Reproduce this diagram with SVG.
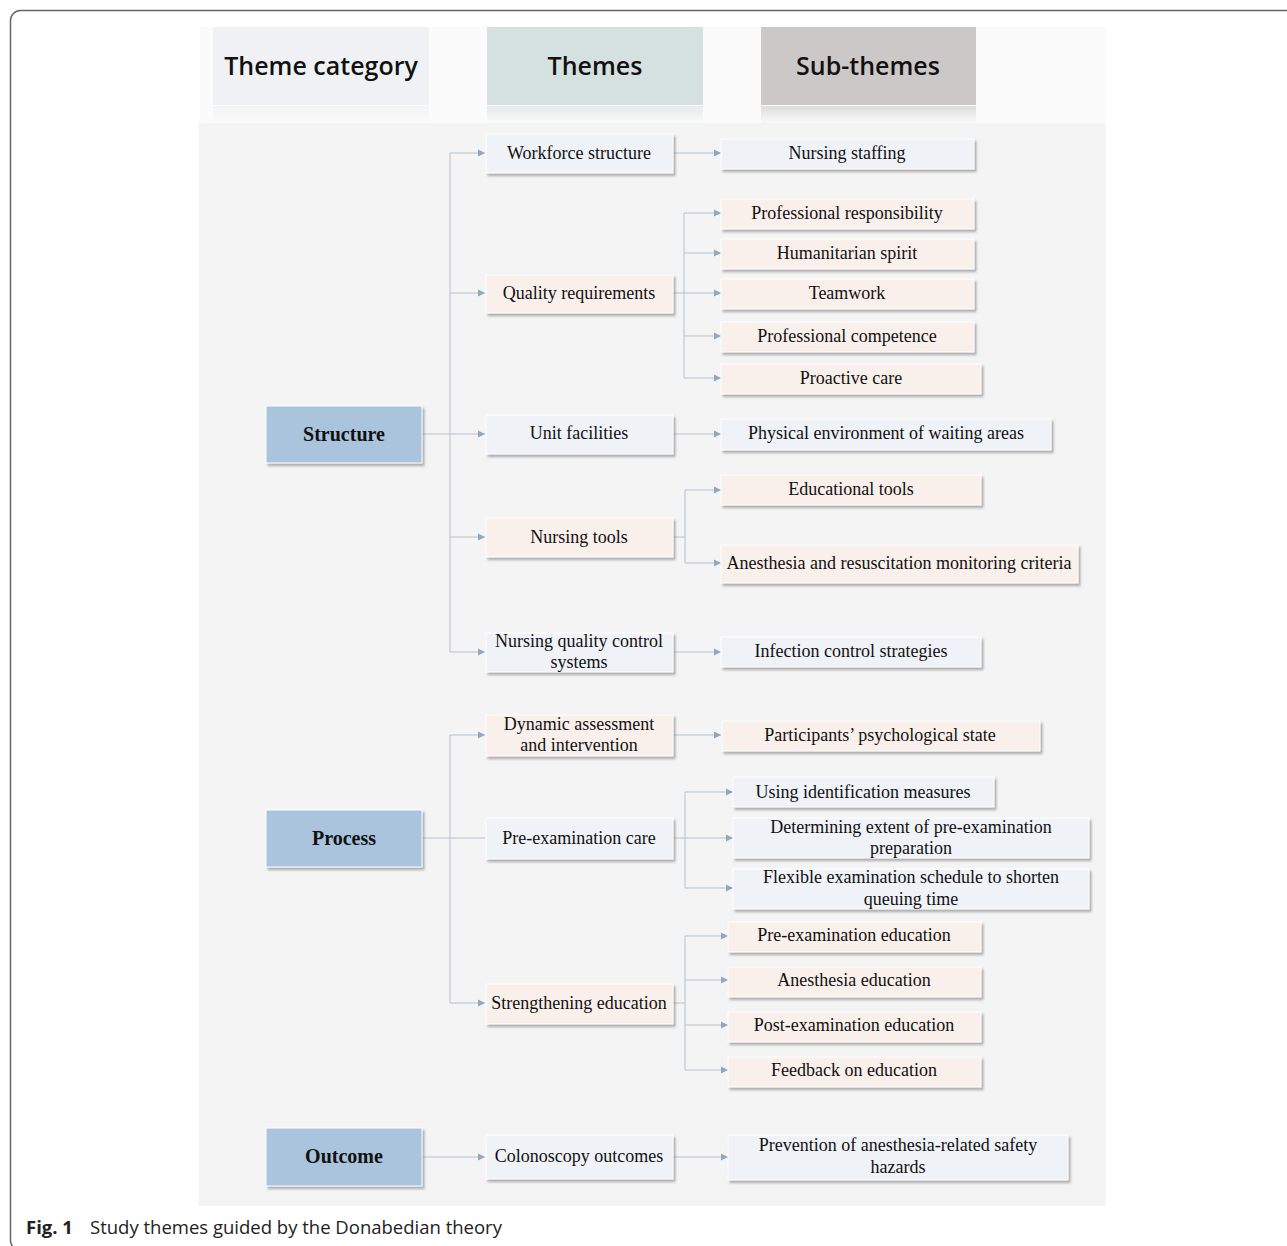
<svg xmlns="http://www.w3.org/2000/svg" width="1287" height="1246" viewBox="0 0 1287 1246">
<defs>
<filter id="sh" x="-10%" y="-20%" width="120%" height="160%">
<feDropShadow dx="2" dy="2.5" stdDeviation="1.2" flood-color="#6f6f6f" flood-opacity="0.55"/>
</filter>
<marker id="ar" markerWidth="9" markerHeight="9" refX="8" refY="4.5" orient="auto" markerUnits="userSpaceOnUse">
<path d="M1,1 L8,4.5 L1,8 Z" fill="#8fa8c0"/>
</marker>
<linearGradient id="r1" x1="0" y1="0" x2="0" y2="1"><stop offset="0" stop-color="#f0f1f5" stop-opacity="0.7"/><stop offset="1" stop-color="#f0f1f5" stop-opacity="0"/></linearGradient>
<linearGradient id="r2" x1="0" y1="0" x2="0" y2="1"><stop offset="0" stop-color="#d5e1df" stop-opacity="0.6"/><stop offset="1" stop-color="#d5e1df" stop-opacity="0"/></linearGradient>
<linearGradient id="r3" x1="0" y1="0" x2="0" y2="1"><stop offset="0" stop-color="#cdc8c8" stop-opacity="0.6"/><stop offset="1" stop-color="#cdc8c8" stop-opacity="0"/></linearGradient>
<style>
.cat{fill:#a9c4dc;stroke:#ffffff;stroke-width:1;filter:url(#sh)}
.b{fill:#eff2f7;stroke:#ffffff;stroke-width:1;filter:url(#sh)}
.p{fill:#f9efeb;stroke:#ffffff;stroke-width:1;filter:url(#sh)}
.t{font-family:"Liberation Serif","Times New Roman",serif;font-size:18px;fill:#111;text-anchor:middle}
.ct{font-family:"Liberation Serif","Times New Roman",serif;font-size:20px;font-weight:bold;fill:#111;text-anchor:middle}
.h{font-family:"Open Sans","Noto Sans",sans-serif;font-size:25px;font-weight:600;fill:#111;text-anchor:middle}
.c{fill:none;stroke:#b3c2d1;stroke-width:1}
.a{fill:none;stroke:#b3c2d1;stroke-width:1;marker-end:url(#ar)}
.cap{font-family:"Open Sans","Noto Sans",sans-serif;font-size:18.5px;fill:#222}
</style>
</defs>
<rect x="0" y="0" width="1287" height="1246" fill="#ffffff"/>
<rect x="10.5" y="10.5" width="1290" height="1240" rx="10" fill="#ffffff" stroke="#666666" stroke-width="1.5"/>
<rect x="199" y="27" width="907" height="96" fill="#fbfbfb"/>
<rect x="199" y="123" width="907" height="1083" fill="#f4f4f4"/>

<g id="headers">
<g id="h-category"><rect x="213" y="27" width="216" height="78" fill="#f0f1f5"/><rect x="213" y="106" width="216" height="18" fill="url(#r1)"/><text class="h" x="321" y="75">Theme category</text></g>
<g id="h-themes"><rect x="487" y="27" width="216" height="78" fill="#d5e1df"/><rect x="487" y="106" width="216" height="18" fill="url(#r2)"/><text class="h" x="595" y="75">Themes</text></g>
<g id="h-subthemes"><rect x="761" y="27" width="215" height="78" fill="#cdc8c8"/><rect x="761" y="106" width="215" height="18" fill="url(#r3)"/><text class="h" x="868" y="75">Sub-themes</text></g>
</g>

<g id="connectors">
<!-- Structure -->
<path class="a" d="M422,434 H485"/>
<path class="c" d="M450,153 V652"/>
<path class="a" d="M450,153 H485"/>
<path class="a" d="M450,293 H485"/>
<path class="a" d="M450,537 H485"/>
<path class="a" d="M450,652 H485"/>
<path class="a" d="M673,153 H721"/>
<path class="c" d="M673,293 H684 M684,213 V378"/>
<path class="a" d="M684,213 H721"/>
<path class="a" d="M684,253 H721"/>
<path class="a" d="M684,293 H721"/>
<path class="a" d="M684,336 H721"/>
<path class="a" d="M684,378 H721"/>
<path class="a" d="M673,434 H721"/>
<path class="c" d="M673,537 H685 M685,490 V563"/>
<path class="a" d="M685,490 H721"/>
<path class="a" d="M685,563 H721"/>
<path class="a" d="M673,652 H721"/>
<!-- Process -->
<path class="c" d="M422,838 H485"/>
<path class="c" d="M450,735 V1003"/>
<path class="a" d="M450,735 H485"/>
<path class="a" d="M450,1003 H485"/>
<path class="a" d="M673,735 H721"/>
<path class="c" d="M673,838 H685 M685,792 V888"/>
<path class="a" d="M685,792 H733"/>
<path class="a" d="M685,838 H733"/>
<path class="a" d="M685,888 H733"/>
<path class="c" d="M673,1003 H685 M685,936 V1070"/>
<path class="a" d="M685,936 H728"/>
<path class="a" d="M685,980 H728"/>
<path class="a" d="M685,1025 H728"/>
<path class="a" d="M685,1070 H728"/>
<!-- Outcome -->
<path class="a" d="M422,1157 H485"/>
<path class="a" d="M673,1157 H728"/>
</g>

<g id="n-structure"><rect class="cat" x="266" y="406" width="156" height="57"/><text class="ct" x="344" y="441">Structure</text></g>
<g id="n-process"><rect class="cat" x="266" y="810" width="156" height="57"/><text class="ct" x="344" y="845">Process</text></g>
<g id="n-outcome"><rect class="cat" x="266" y="1128" width="156" height="58"/><text class="ct" x="344" y="1163">Outcome</text></g>

<g id="n-workforce"><rect class="b" x="486" y="134" width="187" height="39"/><text class="t" x="579" y="159">Workforce structure</text></g>
<g id="n-quality"><rect class="p" x="486" y="275" width="187" height="38"/><text class="t" x="579" y="299">Quality requirements</text></g>
<g id="n-unit"><rect class="b" x="486" y="415" width="187" height="39"/><text class="t" x="579" y="439">Unit facilities</text></g>
<g id="n-nursingtools"><rect class="p" x="486" y="518" width="187" height="39"/><text class="t" x="579" y="543">Nursing tools</text></g>
<g id="n-nqc"><rect class="b" x="486" y="633" width="187" height="39"/><text class="t" x="579" y="647">Nursing quality control</text><text class="t" x="579" y="668">systems</text></g>
<g id="n-dynamic"><rect class="p" x="486" y="715" width="187" height="41"/><text class="t" x="579" y="730">Dynamic assessment</text><text class="t" x="579" y="751">and intervention</text></g>
<g id="n-preexamcare"><rect class="b" x="486" y="818" width="187" height="41"/><text class="t" x="579" y="844">Pre-examination care</text></g>
<g id="n-strengthening"><rect class="p" x="486" y="984" width="187" height="40"/><text class="t" x="579" y="1009">Strengthening education</text></g>
<g id="n-colonoscopy"><rect class="b" x="486" y="1135" width="187" height="44"/><text class="t" x="579" y="1162">Colonoscopy outcomes</text></g>

<g id="s-staffing"><rect class="b" x="721" y="139" width="253" height="30"/><text class="t" x="847" y="159">Nursing staffing</text></g>
<g id="s-responsibility"><rect class="p" x="721" y="199" width="253" height="30"/><text class="t" x="847" y="219">Professional responsibility</text></g>
<g id="s-humanitarian"><rect class="p" x="721" y="239" width="253" height="30"/><text class="t" x="847" y="259">Humanitarian spirit</text></g>
<g id="s-teamwork"><rect class="p" x="721" y="279" width="253" height="30"/><text class="t" x="847" y="299">Teamwork</text></g>
<g id="s-competence"><rect class="p" x="721" y="322" width="253" height="30"/><text class="t" x="847" y="342">Professional competence</text></g>
<g id="s-proactive"><rect class="p" x="721" y="364" width="260" height="30"/><text class="t" x="851" y="384">Proactive care</text></g>
<g id="s-physical"><rect class="b" x="721" y="419" width="330" height="31"/><text class="t" x="886" y="439">Physical environment of waiting areas</text></g>
<g id="s-edtools"><rect class="p" x="721" y="475" width="260" height="30"/><text class="t" x="851" y="495">Educational tools</text></g>
<g id="s-anesthesia"><rect class="p" x="721" y="545" width="357" height="38"/><text class="t" x="899" y="569">Anesthesia and resuscitation monitoring criteria</text></g>
<g id="s-infection"><rect class="b" x="721" y="637" width="260" height="30"/><text class="t" x="851" y="657">Infection control strategies</text></g>
<g id="s-participants"><rect class="p" x="722" y="721" width="318" height="30"/><text class="t" x="880" y="741">Participants’ psychological state</text></g>
<g id="s-identification"><rect class="b" x="733" y="777" width="261" height="30"/><text class="t" x="863" y="798">Using identification measures</text></g>
<g id="s-determining"><rect class="b" x="733" y="818" width="356" height="40"/><text class="t" x="911" y="833">Determining extent of pre-examination</text><text class="t" x="911" y="854">preparation</text></g>
<g id="s-flexible"><rect class="b" x="733" y="869" width="356" height="40"/><text class="t" x="911" y="883">Flexible examination schedule to shorten</text><text class="t" x="911" y="905">queuing time</text></g>
<g id="s-preexamed"><rect class="p" x="728" y="922" width="253" height="30"/><text class="t" x="854" y="941">Pre-examination education</text></g>
<g id="s-anesthesiaed"><rect class="p" x="728" y="967" width="253" height="30"/><text class="t" x="854" y="986">Anesthesia education</text></g>
<g id="s-postexam"><rect class="p" x="728" y="1012" width="253" height="30"/><text class="t" x="854" y="1031">Post-examination education</text></g>
<g id="s-feedback"><rect class="p" x="728" y="1057" width="253" height="30"/><text class="t" x="854" y="1076">Feedback on education</text></g>
<g id="s-prevention"><rect class="b" x="728" y="1135" width="340" height="45"/><text class="t" x="898" y="1151">Prevention of anesthesia-related safety</text><text class="t" x="898" y="1173">hazards</text></g>

<text class="cap" x="26" y="1234"><tspan font-weight="bold">Fig. 1</tspan><tspan x="90">Study themes guided by the Donabedian theory</tspan></text>
</svg>
